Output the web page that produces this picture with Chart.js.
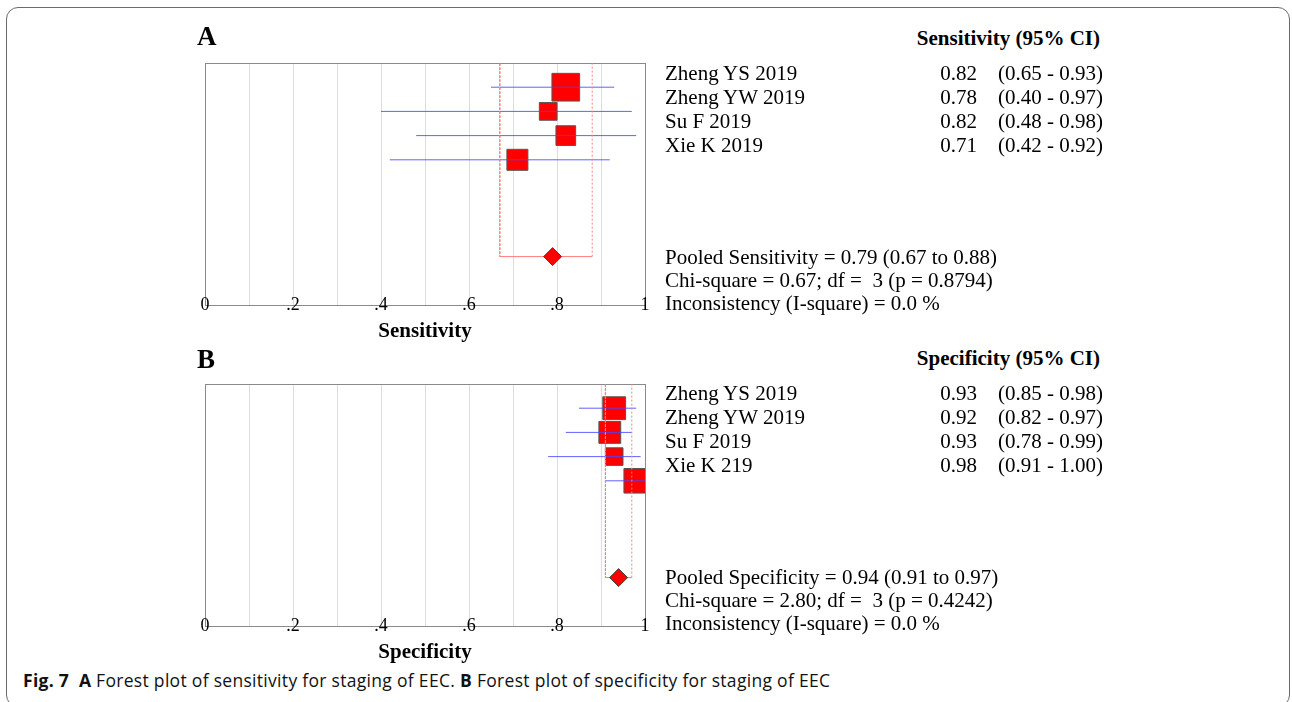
<!DOCTYPE html>
<html>
<head>
<meta charset="utf-8">
<script src="https://cdn.jsdelivr.net/npm/chart.js@4/dist/chart.umd.min.js"></script>
<style>
  html, body { margin: 0; padding: 0; background: #fff; }
  #fig { position: relative; width: 1292px; height: 702px; overflow: hidden; }
  .frame { position: absolute; left: 6px; top: 7px; width: 1284px; height: 700px;
           border: 1.5px solid #6a6a6a; border-radius: 12px; box-sizing: border-box; }
  canvas.panel { position: absolute; left: 0; }
  .t { position: absolute; white-space: pre; color: #000;
       font-family: "Liberation Serif", "Times New Roman", serif; }
  .cap { position: absolute; white-space: pre; color: #111; letter-spacing: 0.3px;
         font-family: "Open Sans", sans-serif; font-size: 17.5px; line-height: 17.5px; }
</style>
</head>
<body>
<div id="fig">
  <div class="frame"></div>
  <canvas id="chartA" class="panel" width="700" height="345" style="top:0px"></canvas>
  <canvas id="chartB" class="panel" width="700" height="345" style="top:321px"></canvas>
</div>
<script>
// ---- study data ----
const tickLabels = ['0', '.2', '.4', '.6', '.8', '1'];

const sensStudies = ['Zheng YS 2019', 'Zheng YW 2019', 'Su F 2019', 'Xie K 2019'];
const sensValues  = [0.82, 0.78, 0.82, 0.71];
const sensLower   = [0.65, 0.40, 0.48, 0.42];
const sensUpper   = [0.93, 0.97, 0.98, 0.92];
const sensWeights = [40.2, 16.4, 20.3, 23.1];      // study weight, %
const sensPooled  = [0.79, 0.67, 0.88];            // estimate, lower, upper
const sensHetero  = [0.67, 3, 0.8794, 0.0];        // chi-square, df, p, I-square

const specStudies = ['Zheng YS 2019', 'Zheng YW 2019', 'Su F 2019', 'Xie K 219'];
const specValues  = [0.93, 0.92, 0.93, 0.98];
const specLower   = [0.85, 0.82, 0.78, 0.91];
const specUpper   = [0.98, 0.97, 0.99, 1.00];
const specWeights = [27.3, 25.0, 16.2, 31.5];
const specPooled  = [0.94, 0.91, 0.97];
const specHetero  = [2.80, 3, 0.4242, 0.0];

// ---- drawing ----
const SERIF = "'Liberation Serif', 'Times New Roman', serif";
const POOLED_ROW = 7;

// grey frame round the plotting area
const plotFrame = {
  id: 'plotFrame',
  beforeDatasetsDraw(chart) {
    const { ctx, chartArea: a } = chart;
    ctx.save();
    ctx.strokeStyle = '#8a8a8a';
    ctx.lineWidth = 1;
    ctx.strokeRect(a.left + 0.5, a.top + 0.5, a.right - a.left, a.bottom - a.top);
    ctx.restore();
  }
};

// tick labels sit centred on the axis line
const axisTickText = {
  id: 'axisTickText',
  afterDraw(chart) {
    const sx = chart.scales.x, ctx = chart.ctx, y = chart.chartArea.bottom;
    ctx.save();
    ctx.font = '18px ' + SERIF;
    ctx.fillStyle = '#000';
    ctx.textAlign = 'center';
    ctx.textBaseline = 'middle';
    sx.ticks.forEach(t => {
      const k = Math.round(t.value * 10);
      if (k % 2 === 0) ctx.fillText(tickLabels[k / 2], sx.getPixelForValue(t.value), y);
    });
    ctx.restore();
  }
};

function makeForest(canvas, values, lower, upper, weights, pooled, axisTitle) {
  const ciLines = values.map((v, i) => ({
    type: 'scatter', showLine: true, order: 2,
    data: [{ x: lower[i], y: i }, { x: upper[i], y: i }],
    borderColor: 'rgba(70,70,255,0.85)', borderWidth: 1, pointRadius: 0
  }));
  const squares = {
    type: 'scatter', order: 3, clip: 0,
    data: values.map((v, i) => ({ x: v, y: i })),
    pointStyle: 'rect',
    pointRadius: weights.map(w => 4.37 * Math.sqrt(w) / Math.SQRT2),
    backgroundColor: '#ff0000', borderColor: '#555555', borderWidth: 1
  };
  const pooledBox = {
    type: 'scatter', showLine: true, order: 1,
    data: [
      { x: pooled[1], y: -1 }, { x: pooled[1], y: POOLED_ROW },
      { x: pooled[2], y: POOLED_ROW }, { x: pooled[2], y: -1 }
    ],
    borderColor: '#ff7d7d', borderWidth: 1, pointRadius: 0,
    segment: { borderDash: c => (c.p0.parsed.x === c.p1.parsed.x ? [2, 2] : []) }
  };
  const diamond = {
    type: 'scatter', order: 0,
    data: [{ x: pooled[0], y: POOLED_ROW }],
    pointStyle: 'rectRot', pointRadius: 9,
    backgroundColor: '#ff0000', borderColor: '#444444', borderWidth: 1
  };

  return new Chart(canvas, {
    type: 'scatter',
    data: { datasets: [diamond, pooledBox, ...ciLines, squares] },
    plugins: [plotFrame, axisTickText],
    options: {
      responsive: false,
      animation: false,
      events: [],
      devicePixelRatio: 1,
      layout: { padding: { left: 205, top: 63, right: 55, bottom: 0 } },
      plugins: { legend: { display: false }, tooltip: { enabled: false } },
      scales: {
        x: {
          type: 'linear', min: 0, max: 1,
          afterFit: s => { s.height = 40; },
          border: { display: true, color: '#777777', width: 1 },
          grid: { color: '#dddddd', lineWidth: 1, drawTicks: false },
          ticks: { stepSize: 0.1, autoSkip: false, maxRotation: 0, display: false },
          title: {
            display: true, text: axisTitle, color: '#000',
            font: { family: SERIF, size: 21, weight: 'bold' },
            padding: { top: 0, bottom: 1 }
          }
        },
        y: { type: 'linear', min: -1, max: 9, reverse: true, display: false }
      }
    }
  });
}

makeForest(document.getElementById('chartA'), sensValues, sensLower, sensUpper,
           sensWeights, sensPooled, 'Sensitivity');
makeForest(document.getElementById('chartB'), specValues, specLower, specUpper,
           specWeights, specPooled, 'Specificity');

// ---- text columns ----
const fig = document.getElementById('fig');
function put(text, x, baseline, opts = {}) {
  const size = opts.size || 21;
  const el = document.createElement('div');
  el.className = 't';
  el.textContent = text;
  el.style.fontSize = size + 'px';
  el.style.lineHeight = size + 'px';
  el.style.top = (baseline - 0.8375 * size) + 'px';
  if (opts.bold) el.style.fontWeight = 'bold';
  if (opts.right) el.style.right = (1292 - x) + 'px';
  else el.style.left = x + 'px';
  fig.appendChild(el);
}

function textPanel(dy, letterBase, letter, header, studies, values, lower, upper, pooled, hetero, measure) {
  put(letter, 197, letterBase, { size: 27, bold: true });
  put(header, 1100, 46 + dy, { bold: true, right: true });
  studies.forEach((s, i) => {
    const b = 81 + dy + 24 * i;
    put(s, 665, b);
    put(values[i].toFixed(2), 977, b, { right: true });
    put('(' + lower[i].toFixed(2) + ' - ' + upper[i].toFixed(2) + ')', 998, b);
  });
  put('Pooled ' + measure + ' = ' + pooled[0].toFixed(2) + ' (' + pooled[1].toFixed(2) +
      ' to ' + pooled[2].toFixed(2) + ')', 665, 264.5 + dy);
  put('Chi-square = ' + hetero[0].toFixed(2) + '; df =  ' + hetero[1] +
      ' (p = ' + hetero[2].toFixed(4) + ')', 665, 288 + dy);
  put('Inconsistency (I-square) = ' + hetero[3].toFixed(1) + ' %', 665, 311 + dy);
}

textPanel(0, 46, 'A', 'Sensitivity (95% CI)', sensStudies, sensValues, sensLower, sensUpper,
          sensPooled, sensHetero, 'Sensitivity');
textPanel(320, 369, 'B', 'Specificity (95% CI)', specStudies, specValues, specLower, specUpper,
          specPooled, specHetero, 'Specificity');

// ---- caption ----
const cap = document.createElement('div');
cap.className = 'cap';
cap.style.left = '23px';
cap.style.top = (688 - 0.888 * 17.5) + 'px';
cap.innerHTML = '<b>Fig. 7</b>  <b>A</b> Forest plot of sensitivity for staging of EEC. ' +
                '<b>B</b> Forest plot of specificity for staging of EEC';
fig.appendChild(cap);
</script>
</body>
</html>
